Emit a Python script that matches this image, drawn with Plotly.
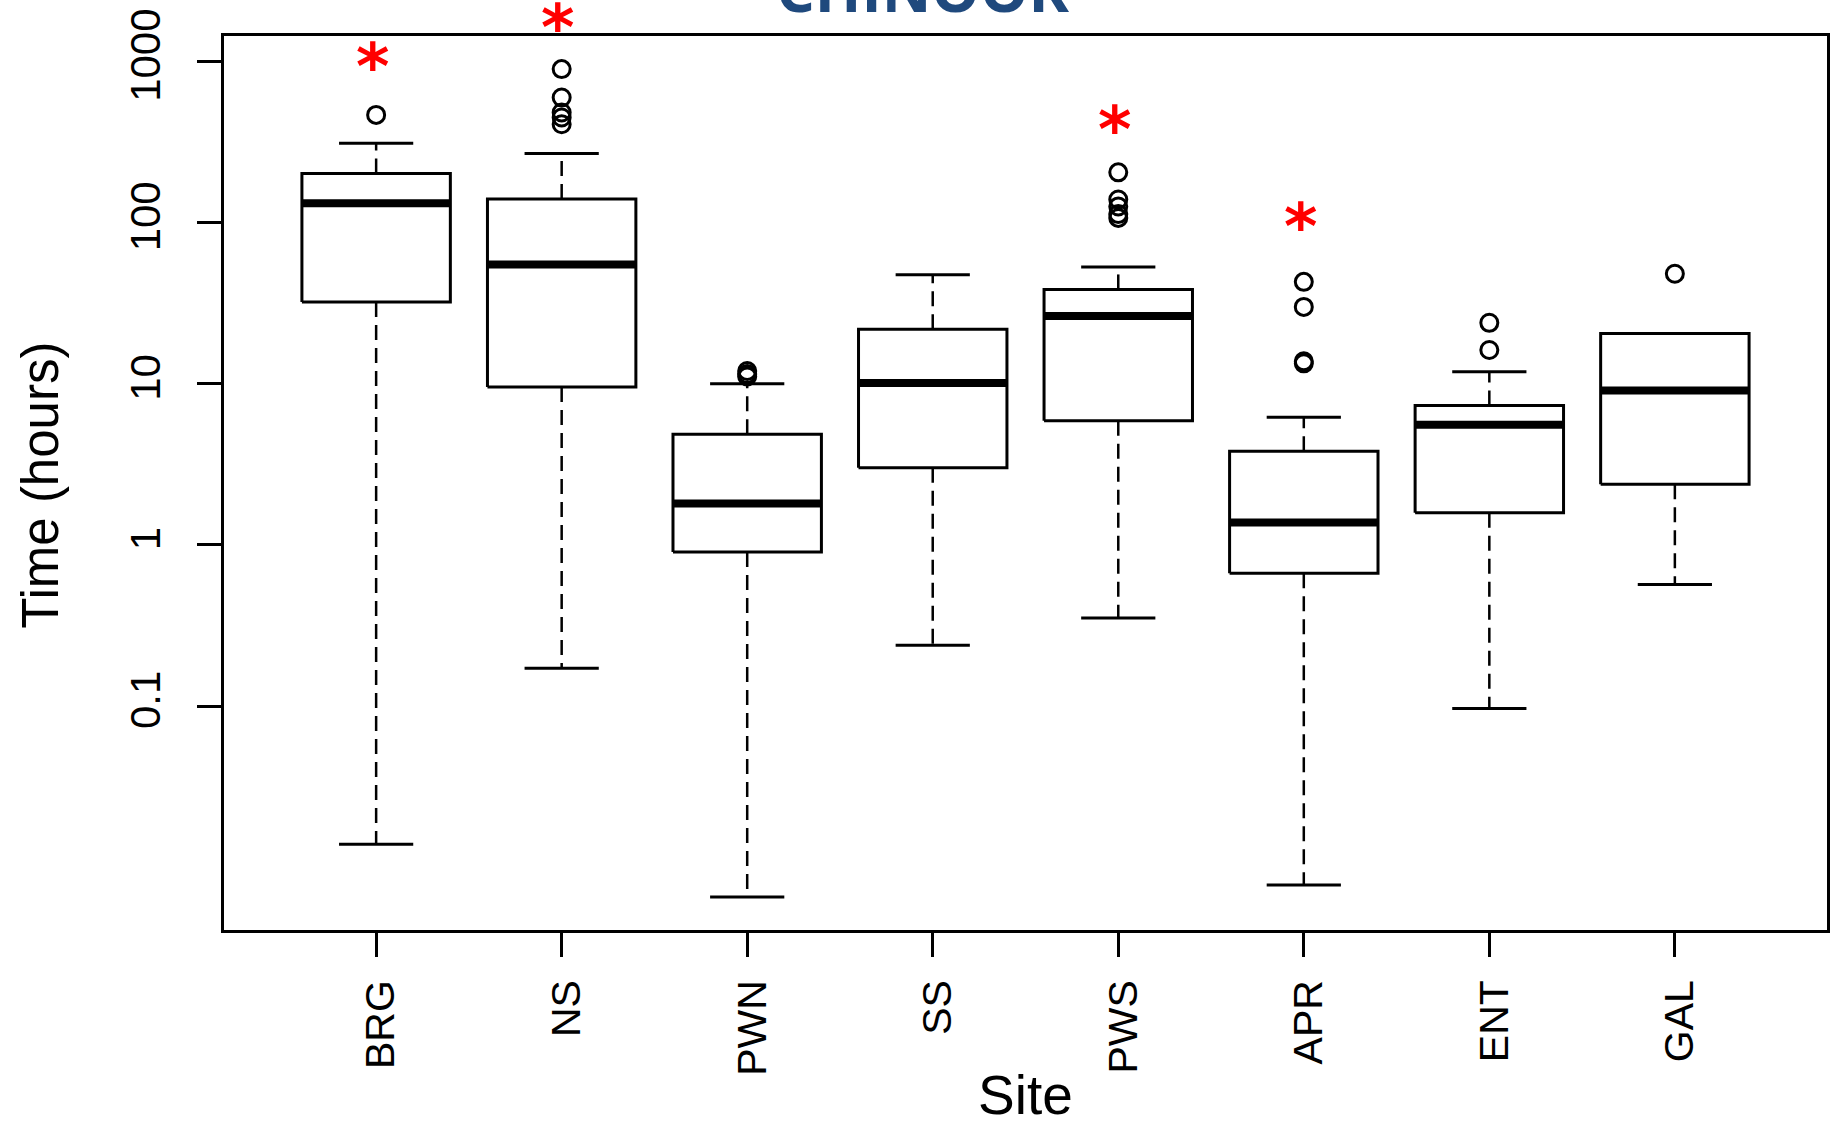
import numpy as np
import plotly.graph_objects as go

# ---- data: residence time (hours) per site, log scale ----
sites = ["BRG", "NS", "PWN", "SS", "PWS", "APR", "ENT", "GAL"]
lower_whisker = [0.0139, 0.172, 0.00656, 0.239, 0.353, 0.00778, 0.0969, 0.569]
q1 = [32.2, 9.57, 0.905, 3.01, 5.89, 0.667, 1.585, 2.38]
median = [132, 55, 1.81, 10.1, 26.3, 1.38, 5.58, 9.08]
q3 = [202, 140, 4.86, 21.8, 38.5, 3.81, 7.33, 20.5]
upper_whisker = [311, 268, 10.0, 47.5, 53, 6.2, 11.9, 20.5]

outliers_brg = [466]
outliers_ns = [896, 597, 482, 449, 408]
outliers_pwn = [12.0, 11.5, 11.1]
outliers_ss = []
outliers_pws = [205, 139, 126, 113, 107]
outliers_apr = [42.9, 30.0, 13.8, 13.4]
outliers_ent = [23.9, 16.2]
outliers_gal = [48.2]

# significance markers
star_sites = ["BRG", "NS", "PWS", "APR"]
star_hours = [1079, 1888, 437, 110]

y_ticks = [0.1, 1, 10, 100, 1000]
y_tick_text = ["0.1", "1", "10", "100", "1000"]

# ---- geometry helpers ----
pos = np.arange(1, len(sites) + 1)
half_box = 0.4
half_cap = 0.2
outliers = [outliers_brg, outliers_ns, outliers_pwn, outliers_ss,
            outliers_pws, outliers_apr, outliers_ent, outliers_gal]

box_x, box_y = [], []
med_x, med_y = [], []
wh_x, wh_y = [], []
cap_x, cap_y = [], []
out_x, out_y = [], []
for i, p in enumerate(pos):
    box_x += [p - half_box, p + half_box, p + half_box, p - half_box, p - half_box, None]
    box_y += [q1[i], q1[i], q3[i], q3[i], q1[i], None]
    med_x += [p - half_box, p + half_box, None]
    med_y += [median[i], median[i], None]
    wh_x += [p, p, None, p, p, None]
    wh_y += [q3[i], upper_whisker[i], None, q1[i], lower_whisker[i], None]
    cap_x += [p - half_cap, p + half_cap, None, p - half_cap, p + half_cap, None]
    cap_y += [upper_whisker[i], upper_whisker[i], None, lower_whisker[i], lower_whisker[i], None]
    out_x += [p] * len(outliers[i])
    out_y += outliers[i]

# y range padded by 4% of the log span of all plotted values
all_vals = lower_whisker + out_y
lo, hi = np.log10(min(all_vals)), np.log10(max(all_vals))
pad = 0.04 * (hi - lo)
y_range = [lo - pad, hi + pad]

fig = go.Figure()
common = dict(mode="lines", hoverinfo="skip", showlegend=False)
fig.add_trace(go.Scatter(x=wh_x, y=wh_y, line=dict(color="black", width=2.5, dash="15px,8px"), **common))
fig.add_trace(go.Scatter(x=box_x, y=box_y, line=dict(color="black", width=3), **common))
fig.add_trace(go.Scatter(x=med_x, y=med_y, line=dict(color="black", width=8), **common))
fig.add_trace(go.Scatter(x=cap_x, y=cap_y, line=dict(color="black", width=3), **common))
fig.add_trace(go.Scatter(
    x=out_x, y=out_y, mode="markers", hoverinfo="skip", showlegend=False,
    marker=dict(symbol="circle-open", size=17, color="black", line=dict(width=3, color="black")),
))

axis_common = dict(
    showline=True, linewidth=2.5, linecolor="black", mirror=True,
    ticks="outside", ticklen=24, tickwidth=2.5, tickcolor="black",
    showgrid=False, zeroline=False, tickangle=-90,
)
fig.update_xaxes(
    range=[0.18, len(sites) + 0.82], tickvals=list(pos), ticktext=sites,
    tickfont=dict(family="Liberation Sans, Arial, sans-serif", size=41, color="black"),
    ticklabelstandoff=7, ticklabelshift=5, **axis_common,
)
fig.update_yaxes(
    type="log", range=y_range, tickvals=y_ticks, ticktext=y_tick_text,
    tickfont=dict(family="Liberation Sans, Arial, sans-serif", size=42, color="black"),
    ticklabelstandoff=20, **axis_common,
)

# stars sit on the y scale; placed in paper units so the one above the frame still shows
annotations = []
for s, h in zip(star_sites, star_hours):
    frac = (np.log10(h) - y_range[0]) / (y_range[1] - y_range[0])
    annotations.append(dict(
        x=sites.index(s) + 1 - 0.02, y=frac, xref="x", yref="paper",
        xanchor="center", yanchor="middle",
        text="<b>*</b>", showarrow=False, yshift=-11,
        font=dict(family="DejaVu Sans", size=64, color="#FF0000"),
    ))
annotations += [
    dict(text="Site", x=0.5, y=-0.2215, xref="paper", yref="paper",
         xanchor="center", yanchor="bottom", showarrow=False,
         font=dict(family="Liberation Sans, Arial, sans-serif", size=55, color="black")),
    dict(text="Time (hours)", x=-0.1142, y=0.498, xref="paper", yref="paper",
         xanchor="center", yanchor="middle", textangle=-90, showarrow=False,
         font=dict(family="Liberation Sans, Arial, sans-serif", size=51, color="black")),
    dict(text="<b>CHINOOK</b>", x=0.4356, y=1.00459, xref="paper", yref="paper",
         xanchor="center", yanchor="bottom", showarrow=False,
         font=dict(family="Open Sans", size=61, color="#1F497D")),
]

fig.update_layout(
    width=1837, height=1122,
    margin=dict(l=224, r=7, t=36, b=192),
    paper_bgcolor="white", plot_bgcolor="white",
    annotations=annotations,
    showlegend=False,
)

fig.write_html("out.html")
